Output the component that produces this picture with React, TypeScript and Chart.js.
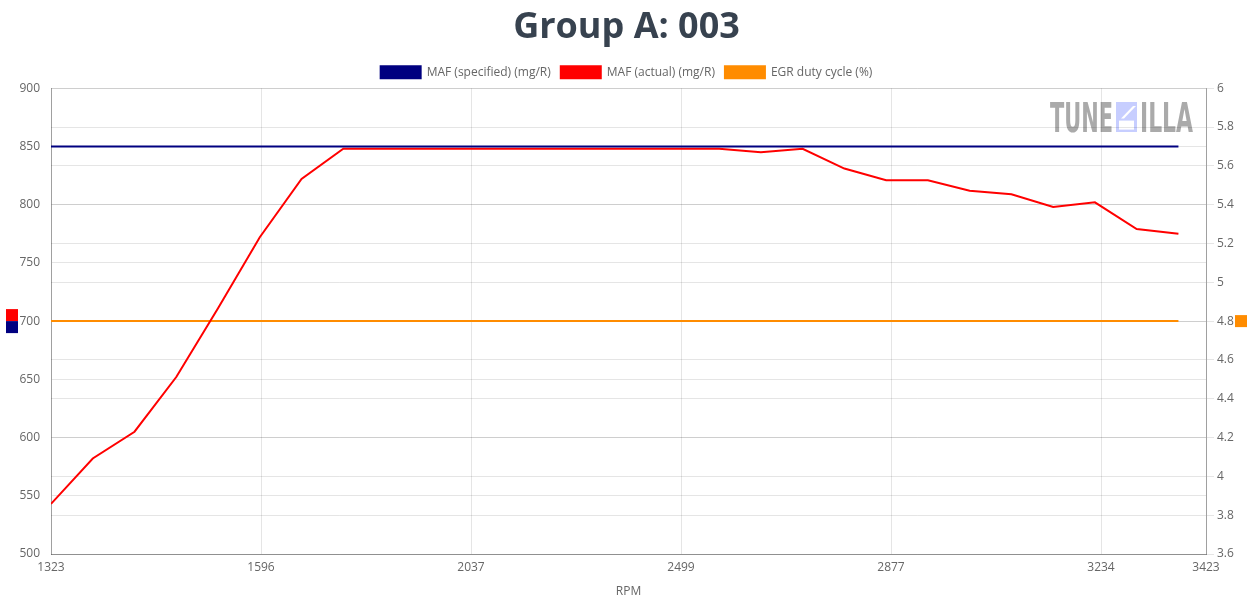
import React, { useEffect, useRef } from 'react';
import { Chart, registerables } from 'chart.js';

Chart.register(...registerables);

// ---- data ----
const chartTitle = 'Group A: 003';
const xAxisTitle = 'RPM';
const rpmTickLabels = ['1323', '1596', '2037', '2499', '2877', '3234', '3423'];
const seriesLabels = ['MAF (specified) (mg/R)', 'MAF (actual) (mg/R)', 'EGR duty cycle (%)'];
const seriesColors = ['#000080', '#ff0000', '#ff8c00'];

const mafSpecified = [
  850, 850, 850, 850, 850, 850, 850, 850, 850, 850, 850, 850, 850, 850,
  850, 850, 850, 850, 850, 850, 850, 850, 850, 850, 850, 850, 850, 850,
];
const mafActual = [
  543, 582, 605, 652, 711, 772, 822, 848, 848, 848, 848, 848, 848, 848,
  848, 848, 848, 845, 848, 831, 821, 821, 812, 809, 798, 802, 779, 775,
];
const egrDutyCycle = [
  4.8, 4.8, 4.8, 4.8, 4.8, 4.8, 4.8, 4.8, 4.8, 4.8, 4.8, 4.8, 4.8, 4.8,
  4.8, 4.8, 4.8, 4.8, 4.8, 4.8, 4.8, 4.8, 4.8, 4.8, 4.8, 4.8, 4.8, 4.8,
];

// x axis: sample index; range slightly beyond the last sample
const X_MAX = 27.66;
const X_TICK_INTERVALS = 5.5;

const FONT = "'Open Sans', sans-serif";
const GRID = 'rgba(0,0,0,0.1)';
const BORDER = 'rgba(0,0,0,0.3)';

const toPoints = (arr: number[]) => arr.map((v, i) => ({ x: i, y: v }));

const decorPlugin = {
  id: 'decor',
  beforeDraw(chart: any) {
    const ctx = chart.ctx as CanvasRenderingContext2D;
    // watermark
    ctx.save();
    ctx.fillStyle = 'rgba(100,100,100,0.55)';
    ctx.font = "bold 40px 'DejaVu Sans Condensed'";
    ctx.textBaseline = 'alphabetic';
    const drawSqueezed = (text: string, x: number, w: number) => {
      const m = ctx.measureText(text).width;
      ctx.save();
      ctx.translate(x, 132);
      ctx.scale(w / m, 1);
      ctx.fillText(text, 0, 0);
      ctx.restore();
    };
    drawSqueezed('TUNE', 1050, 63);
    drawSqueezed('ILLA', 1140, 53);
    // Z box
    const bx = 1116, by = 102, bw = 21, bh = 30;
    ctx.fillStyle = 'rgba(175,185,255,0.7)';
    ctx.fillRect(bx, by, bw, bh);
    ctx.fillStyle = '#ffffff';
    ctx.beginPath();
    ctx.moveTo(bx + bw - 4, by + 4);
    ctx.lineTo(bx + bw - 1, by + 4);
    ctx.lineTo(bx + 8, by + bh * 0.55);
    ctx.lineTo(bx + 5, by + bh * 0.55);
    ctx.closePath();
    ctx.fill();
    ctx.fillRect(bx + 3, by + bh * 0.62, bw - 6, bh * 0.3);
    ctx.restore();
  },
  afterDraw(chart: any) {
    const ctx = chart.ctx as CanvasRenderingContext2D;
    const yl = chart.scales.yLeft;
    const yr = chart.scales.yRight;
    const midL = (yl.top + yl.bottom) / 2;
    const midR = (yr.top + yr.bottom) / 2;
    ctx.save();
    ctx.fillStyle = seriesColors[1];
    ctx.fillRect(6, midL - 12, 12, 12);
    ctx.fillStyle = seriesColors[0];
    ctx.fillRect(6, midL, 12, 12);
    ctx.fillStyle = seriesColors[2];
    ctx.fillRect(chart.width - 18, midR - 6, 12, 12);
    ctx.restore();
  },
};

export default function App() {
  const ref = useRef<HTMLCanvasElement>(null);

  useEffect(() => {
    if (!ref.current) return;
    const chart = new Chart(ref.current, {
      type: 'line',
      data: {
        datasets: [
          {
            label: seriesLabels[0],
            data: toPoints(mafSpecified),
            borderColor: seriesColors[0],
            backgroundColor: seriesColors[0],
            yAxisID: 'yLeft',
          },
          {
            label: seriesLabels[1],
            data: toPoints(mafActual),
            borderColor: seriesColors[1],
            backgroundColor: seriesColors[1],
            yAxisID: 'yLeft',
          },
          {
            label: seriesLabels[2],
            data: toPoints(egrDutyCycle),
            borderColor: seriesColors[2],
            backgroundColor: seriesColors[2],
            yAxisID: 'yRight',
          },
        ],
      },
      options: {
        animation: false,
        responsive: true,
        maintainAspectRatio: false,
        elements: {
          line: { tension: 0, borderWidth: 2, fill: false },
          point: { radius: 0, hoverRadius: 0 },
        },
        layout: { padding: 0 },
        plugins: {
          title: {
            display: true,
            text: chartTitle,
            color: '#37424f',
            font: { family: FONT, size: 36, weight: 'bold', lineHeight: 1.2 },
            padding: { top: 6, bottom: 7 },
          },
          legend: {
            display: true,
            labels: {
              boxWidth: 40,
              boxHeight: 12,
              color: '#666',
              font: { family: FONT, size: 12 },
              padding: 10,
            },
          },
          tooltip: { enabled: false },
        },
        scales: {
          x: {
            type: 'linear',
            min: 0,
            max: X_MAX,
            afterBuildTicks: (scale: any) => {
              scale.ticks = rpmTickLabels.map((_, k) => ({
                value: k === rpmTickLabels.length - 1 ? X_MAX : (k * X_MAX) / X_TICK_INTERVALS,
              }));
            },
            afterFit: (scale: any) => {
              scale.height = 46;
            },
            ticks: {
              autoSkip: false,
              maxRotation: 0,
              padding: 6,
              color: '#666',
              font: { family: FONT, size: 12 },
              callback: (_v: any, i: number) => rpmTickLabels[i],
            },
            grid: { color: GRID, drawTicks: false },
            border: { display: true, color: BORDER },
            title: {
              display: true,
              text: xAxisTitle,
              color: '#666',
              font: { family: FONT, size: 12 },
              padding: { top: 4, bottom: 1 },
            },
          },
          yLeft: {
            type: 'linear',
            position: 'left',
            min: 500,
            max: 900,
            afterFit: (scale: any) => {
              scale.width = 51;
            },
            ticks: {
              stepSize: 50,
              padding: 11,
              color: '#666',
              font: { family: FONT, size: 12 },
            },
            grid: { color: GRID, drawTicks: false },
            border: { display: true, color: BORDER },
          },
          yRight: {
            type: 'linear',
            position: 'right',
            min: 3.6,
            max: 6,
            afterFit: (scale: any) => {
              scale.width = 47;
            },
            ticks: {
              stepSize: 0.2,
              padding: 3,
              color: '#666',
              font: { family: FONT, size: 12 },
              callback: (v: any) => String(Number(Number(v).toFixed(2))),
            },
            grid: { color: GRID, drawTicks: true, tickLength: 8 },
            border: { display: true, color: BORDER },
          },
        },
      },
      plugins: [decorPlugin],
    });
    return () => chart.destroy();
  }, []);

  return (
    <div style={{ position: 'absolute', left: 0, top: 0, width: 1253, height: 600 }}>
      <canvas ref={ref} />
    </div>
  );
}
